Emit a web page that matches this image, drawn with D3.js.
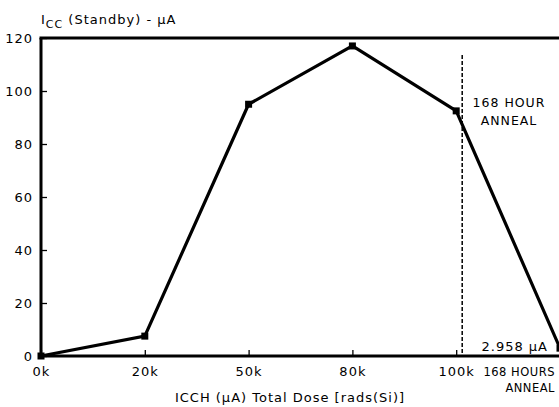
<!DOCTYPE html>
<html>
<head>
<meta charset="utf-8">
<script src="https://cdn.jsdelivr.net/npm/d3@7"></script>
<style>
  body { margin: 0; background: #fff; }
  svg text { font-family: "DejaVu Sans", sans-serif; fill: #000; }
</style>
</head>
<body>
<div id="chart"></div>
<script>
// chart data
var doses = ["0k", "20k", "50k", "80k", "100k", "anneal"];
var iccStandby = [0, 7.5, 95, 117, 92.5, 2.958];
var doseTicks = ["0k", "20k", "50k", "80k", "100k"];
var yTicks = [0, 20, 40, 60, 80, 100, 120];

var svgWidth = 559;
var svgHeight = 407;

var margin = { top: 38, right: -1, bottom: 51, left: 41 };
var width = svgWidth - margin.left - margin.right;
var height = svgHeight - margin.top - margin.bottom;

var svg = d3.select("#chart")
  .append("svg")
  .attr("width", svgWidth)
  .attr("height", svgHeight);

var chartGroup = svg.append("g")
  .attr("transform", `translate(${margin.left}, ${margin.top})`);

// scales
var xScale = d3.scalePoint()
  .domain(doses)
  .range([0, width]);

var yScale = d3.scaleLinear()
  .domain([0, 120])
  .range([height, 0]);

// axes, ticks point inward
var bottomAxis = d3.axisBottom(xScale)
  .tickValues(doseTicks)
  .tickSize(-6)
  .tickPadding(14);

var leftAxis = d3.axisLeft(yScale)
  .tickValues(yTicks)
  .tickSize(-6)
  .tickPadding(8);

var xAxisG = chartGroup.append("g")
  .attr("transform", `translate(0, ${height})`)
  .call(bottomAxis);

var yAxisG = chartGroup.append("g")
  .call(leftAxis);

[xAxisG, yAxisG].forEach(function(g) {
  g.select(".domain").remove();
  g.selectAll(".tick line").attr("stroke", "#000").attr("stroke-width", 1.3);
  g.selectAll(".tick text")
    .attr("font-size", "13px")
    .style("letter-spacing", "1px")
    .style("font-family", "DejaVu Sans, sans-serif");
});
xAxisG.selectAll(".tick text").attr("dy", "0.45em");

// frame lines: left, bottom, top
chartGroup.append("line")
  .attr("x1", 0).attr("x2", 0)
  .attr("y1", 0).attr("y2", height)
  .attr("stroke", "#000").attr("stroke-width", 3);
chartGroup.append("line")
  .attr("x1", -1.5).attr("x2", width + 2)
  .attr("y1", height).attr("y2", height)
  .attr("stroke", "#000").attr("stroke-width", 3);
chartGroup.append("line")
  .attr("x1", -1.5).attr("x2", width + 2)
  .attr("y1", 0).attr("y2", 0)
  .attr("stroke", "#000").attr("stroke-width", 3);

// dashed anneal marker
chartGroup.append("line")
  .attr("x1", xScale("100k") + 6).attr("x2", xScale("100k") + 6)
  .attr("y1", 17).attr("y2", height)
  .attr("stroke", "#000")
  .attr("stroke-width", 1.5)
  .attr("stroke-dasharray", "4,2");

// data line
var line = d3.line()
  .x((d, i) => xScale(doses[i]))
  .y(d => yScale(d));

chartGroup.append("path")
  .datum(iccStandby)
  .attr("d", line)
  .attr("fill", "none")
  .attr("stroke", "#000")
  .attr("stroke-width", 3.2)
  .attr("stroke-linejoin", "miter");

chartGroup.selectAll("rect.marker")
  .data(iccStandby)
  .enter()
  .append("rect")
  .attr("class", "marker")
  .attr("x", (d, i) => xScale(doses[i]) - 3.5)
  .attr("y", d => yScale(d) - 3.5)
  .attr("width", 7)
  .attr("height", 7)
  .attr("fill", "#000");

// y title with subscript
var yTitle = svg.append("text")
  .attr("x", 41)
  .attr("y", 24)
  .attr("font-size", "13px")
  .style("letter-spacing", "1px");
yTitle.append("tspan").text("I");
yTitle.append("tspan").attr("dy", 4).attr("font-size", "11px").text("CC");
yTitle.append("tspan").attr("dy", -4).text(" (Standby) - \u03bcA");

// x title
svg.append("text")
  .attr("x", 290)
  .attr("y", 402)
  .attr("text-anchor", "middle")
  .attr("font-size", "13px")
  .style("letter-spacing", "1px")
  .text("ICCH (\u03bcA) Total Dose [rads(Si)]");

// annotations
var ann1 = svg.append("text")
  .attr("text-anchor", "middle")
  .attr("font-size", "12.5px")
  .style("letter-spacing", "1px");
ann1.append("tspan").attr("x", 509).attr("y", 107).text("168 HOUR");
ann1.append("tspan").attr("x", 509).attr("y", 125).text("ANNEAL");

svg.append("text")
  .attr("x", 548)
  .attr("y", 351)
  .attr("text-anchor", "end")
  .attr("font-size", "13px")
  .style("letter-spacing", "1px")
  .text("2.958 \u03bcA");

var ann2 = svg.append("text")
  .attr("text-anchor", "end")
  .attr("font-size", "11.5px")
  .style("letter-spacing", "0.5px");
ann2.append("tspan").attr("x", 555).attr("y", 376).text("168 HOURS");
ann2.append("tspan").attr("x", 555).attr("y", 392).text("ANNEAL");
</script>
</body>
</html>
